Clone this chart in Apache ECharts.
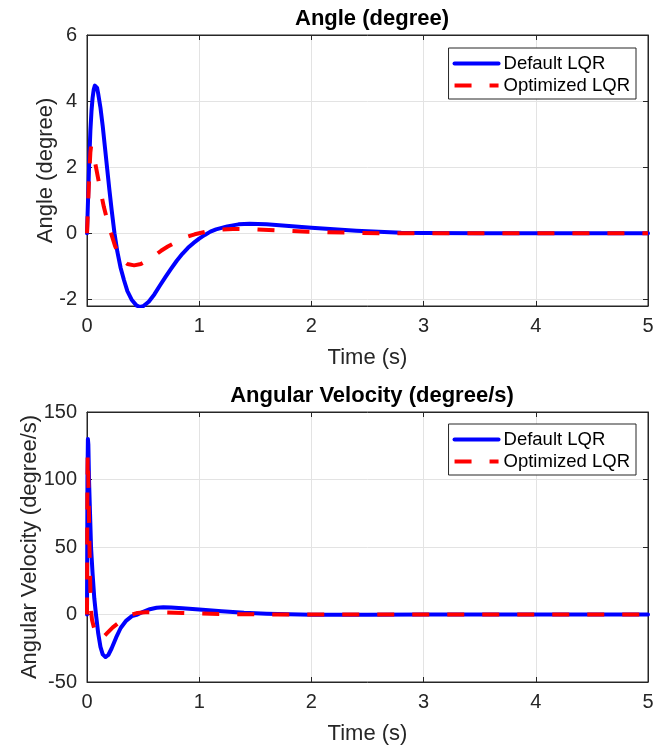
<!DOCTYPE html>
<html>
<head>
<meta charset="utf-8">
<title>LQR response</title>
<script src="https://cdn.jsdelivr.net/npm/echarts@6/dist/echarts.min.js"></script>
<style>
  html, body { margin: 0; padding: 0; background: #fff; }
  #chart { width: 665px; height: 746px; }
</style>
</head>
<body>
<div id="chart"></div>
<script>
// Simulated pendulum response: angle and angular velocity, default vs optimized LQR gains
const seriesNames = ['Default LQR', 'Optimized LQR'];
const timeTicks = [0, 1, 2, 3, 4, 5];
const angleTicks = [-2, 0, 2, 4, 6];

// Angle (degree), default LQR
const angleTimeDefault = [0, 0.01, 0.02, 0.03, 0.04, 0.05, 0.06, 0.07, 0.08, 0.09, 0.10, 0.12, 0.14, 0.16, 0.18, 0.20, 0.22, 0.245, 0.27, 0.30, 0.33, 0.36, 0.40, 0.44, 0.47, 0.50, 0.55, 0.60, 0.65, 0.70, 0.75, 0.80, 0.85, 0.90, 0.95, 1.00, 1.05, 1.10, 1.15, 1.25, 1.35, 1.45, 1.60, 1.80, 2.00, 2.20, 2.40, 2.60, 2.80, 3.00, 3.50, 4.00, 4.50, 5.00];
const angleDefault     = [0, 1.1, 2.2, 3.1, 3.7, 4.1, 4.35, 4.47, 4.48, 4.40, 4.22, 3.80, 3.25, 2.60, 1.95, 1.30, 0.70, 0, -0.55, -1.05, -1.42, -1.75, -2.02, -2.18, -2.23, -2.21, -2.07, -1.85, -1.58, -1.32, -1.07, -0.83, -0.62, -0.44, -0.29, -0.16, -0.05, 0.05, 0.12, 0.21, 0.27, 0.29, 0.27, 0.22, 0.17, 0.12, 0.08, 0.05, 0.02, 0.01, 0, 0, 0, 0];

// Angle (degree), optimized LQR
const angleTimeOptimized = [0, 0.01, 0.02, 0.03, 0.036, 0.045, 0.06, 0.08, 0.10, 0.12, 0.15, 0.18, 0.215, 0.25, 0.28, 0.32, 0.36, 0.42, 0.48, 0.54, 0.60, 0.66, 0.72, 0.80, 0.88, 0.96, 1.05, 1.15, 1.30, 1.50, 1.70, 1.97, 2.30, 2.60, 3.00, 4.00, 5.00];
const angleOptimized     = [0, 0.9, 1.8, 2.45, 2.62, 2.58, 2.35, 2.00, 1.65, 1.30, 0.80, 0.40, 0, -0.38, -0.62, -0.82, -0.93, -0.97, -0.93, -0.82, -0.68, -0.53, -0.40, -0.25, -0.12, -0.03, 0.04, 0.10, 0.13, 0.12, 0.09, 0.05, 0.02, 0.005, 0, 0, 0];

// Angular velocity (degree/s), default LQR
const velTimeDefault = [0, 0.004, 0.008, 0.012, 0.018, 0.027, 0.036, 0.05, 0.065, 0.08, 0.10, 0.12, 0.14, 0.165, 0.19, 0.22, 0.26, 0.30, 0.35, 0.40, 0.45, 0.50, 0.56, 0.62, 0.68, 0.75, 0.85, 1.00, 1.20, 1.40, 1.60, 1.80, 2.00, 2.50, 3.00, 4.00, 5.00];
const velDefault     = [0, 100, 130, 126, 100, 75, 50, 30, 12, 0, -14, -24, -29.5, -31.5, -30, -25, -17, -10, -4.5, -1.2, 0, 2, 3.9, 5, 5.4, 5.2, 4.6, 3.7, 2.4, 1.3, 0.6, 0.2, -0.1, -0.2, 0, 0, 0];

// Angular velocity (degree/s), optimized LQR
const velTimeOptimized = [0, 0.003, 0.006, 0.01, 0.015, 0.02, 0.025, 0.03, 0.036, 0.045, 0.06, 0.08, 0.10, 0.12, 0.14, 0.17, 0.23, 0.29, 0.35, 0.40, 0.45, 0.52, 0.60, 0.70, 0.85, 1.00, 1.20, 1.50, 2.00, 3.00, 5.00];
const velOptimized     = [0, 85, 118, 108, 85, 60, 38, 18, 3, -4, -9, -14, -16.5, -17.3, -17, -14.6, -9.5, -5.6, -2, 0, 1.2, 1.6, 1.6, 1.5, 1.2, 0.8, 0.4, 0.1, 0, 0, 0];

const zip = (ts, vs) => ts.map((t, i) => [t, vs[i]]);

const ink = '#262626';
const gridColor = '#e3e3e3';
const fontFamily = 'Liberation Sans, Arial, Helvetica, sans-serif';
const tickFont = 20;

const plotLeft = 87, plotW = 561;
const grids = [
  { left: plotLeft, top: 35, width: plotW, height: 271 },
  { left: plotLeft, top: 412, width: plotW, height: 271 }
];

const frameLine = { show: true, onZero: false, lineStyle: { color: ink, width: 1 } };
const innerTick = (extra) => Object.assign({ show: true, inside: true, length: 5, lineStyle: { color: ink } }, extra || {});

function mainX(gridIndex) {
  return {
    type: 'value', gridIndex, min: 0, max: 5, interval: 1,
    name: 'Time (s)', nameLocation: 'middle', nameGap: 41,
    nameTextStyle: { color: ink, fontSize: 22, fontFamily },
    axisLine: frameLine,
    axisTick: innerTick(),
    axisLabel: { color: ink, fontSize: tickFont, fontFamily, margin: 10, customValues: timeTicks },
    splitLine: { show: true, lineStyle: { color: gridColor, width: 1 } }
  };
}
function mirrorX(gridIndex) {
  return {
    type: 'value', gridIndex, min: 0, max: 5, interval: 1, position: 'top',
    axisLine: frameLine, axisTick: innerTick(),
    axisLabel: { show: false }, splitLine: { show: false }
  };
}
function mainY(gridIndex, name, min, max, nameGap, extra) {
  return Object.assign({
    type: 'value', gridIndex, min, max,
    name, nameLocation: 'middle', nameGap, nameMoveOverlap: false,
    nameTextStyle: { color: ink, fontSize: 22, fontFamily },
    axisLine: frameLine,
    axisTick: innerTick(),
    axisLabel: { color: ink, fontSize: tickFont, fontFamily, margin: 10 },
    splitLine: { show: true, lineStyle: { color: gridColor, width: 1 } }
  }, extra || {});
}
function mirrorY(gridIndex, min, max, extra) {
  return Object.assign({
    type: 'value', gridIndex, min, max, position: 'right',
    axisLine: frameLine, axisTick: innerTick(),
    axisLabel: { show: false }, splitLine: { show: false }
  }, extra || {});
}

function lineSeries(name, data, xi, yi, dashed) {
  return {
    name, type: 'line', xAxisIndex: xi, yAxisIndex: yi, data,
    showSymbol: false, symbol: 'none', smooth: false, animation: false,
    lineStyle: dashed
      ? { color: '#ff0000', width: 4, type: [17, 18], cap: 'butt' }
      : { color: '#0000ff', width: 4, cap: 'round', join: 'round' },
    itemStyle: { color: dashed ? '#ff0000' : '#0000ff' },
    z: dashed ? 3 : 2
  };
}

function legendAt(top) {
  return {
    show: true, orient: 'vertical', right: 29, top,
    data: seriesNames,
    backgroundColor: '#ffffff', borderColor: ink, borderWidth: 1, borderRadius: 0,
    padding: [5, 6, 3, 4], itemGap: 1, itemWidth: 44, itemHeight: 14,
    itemStyle: { opacity: 0 },
    lineStyle: { width: 4 },
    textStyle: { color: '#000', fontSize: 18.5, fontFamily, lineHeight: 21 },
    selectedMode: false
  };
}

const chart = echarts.init(document.getElementById('chart'), null, { renderer: 'canvas' });
chart.setOption({
  backgroundColor: '#ffffff',
  animation: false,
  title: [
    { text: 'Angle (degree)', left: 367, top: 3, textAlign: 'center',
      textStyle: { color: '#000', fontSize: 22, fontWeight: 'bold', fontFamily } },
    { text: 'Angular Velocity (degree/s)', left: 367, top: 380, textAlign: 'center',
      textStyle: { color: '#000', fontSize: 22, fontWeight: 'bold', fontFamily } }
  ],
  grid: grids.map(g => Object.assign({ show: true, borderColor: ink, borderWidth: 1, backgroundColor: 'transparent' }, g)),
  legend: [legendAt(48), legendAt(424)],
  xAxis: [mainX(0), mainX(1), mirrorX(0), mirrorX(1)],
  yAxis: [
    mainY(0, 'Angle (degree)', -2.2, 6, 30, {
      axisLabel: { color: ink, fontSize: tickFont, fontFamily, margin: 10, customValues: angleTicks },
      axisTick: innerTick({ customValues: angleTicks })
    }),
    mainY(1, 'Angular Velocity (degree/s)', -50, 150, 46, { interval: 50 }),
    mirrorY(0, -2.2, 6, { axisTick: innerTick({ customValues: angleTicks }) }),
    mirrorY(1, -50, 150, { interval: 50 })
  ],
  series: [
    lineSeries(seriesNames[0], zip(angleTimeDefault, angleDefault), 0, 0, false),
    lineSeries(seriesNames[1], zip(angleTimeOptimized, angleOptimized), 0, 0, true),
    lineSeries(seriesNames[0], zip(velTimeDefault, velDefault), 1, 1, false),
    lineSeries(seriesNames[1], zip(velTimeOptimized, velOptimized), 1, 1, true)
  ]
});
</script>
</body>
</html>
